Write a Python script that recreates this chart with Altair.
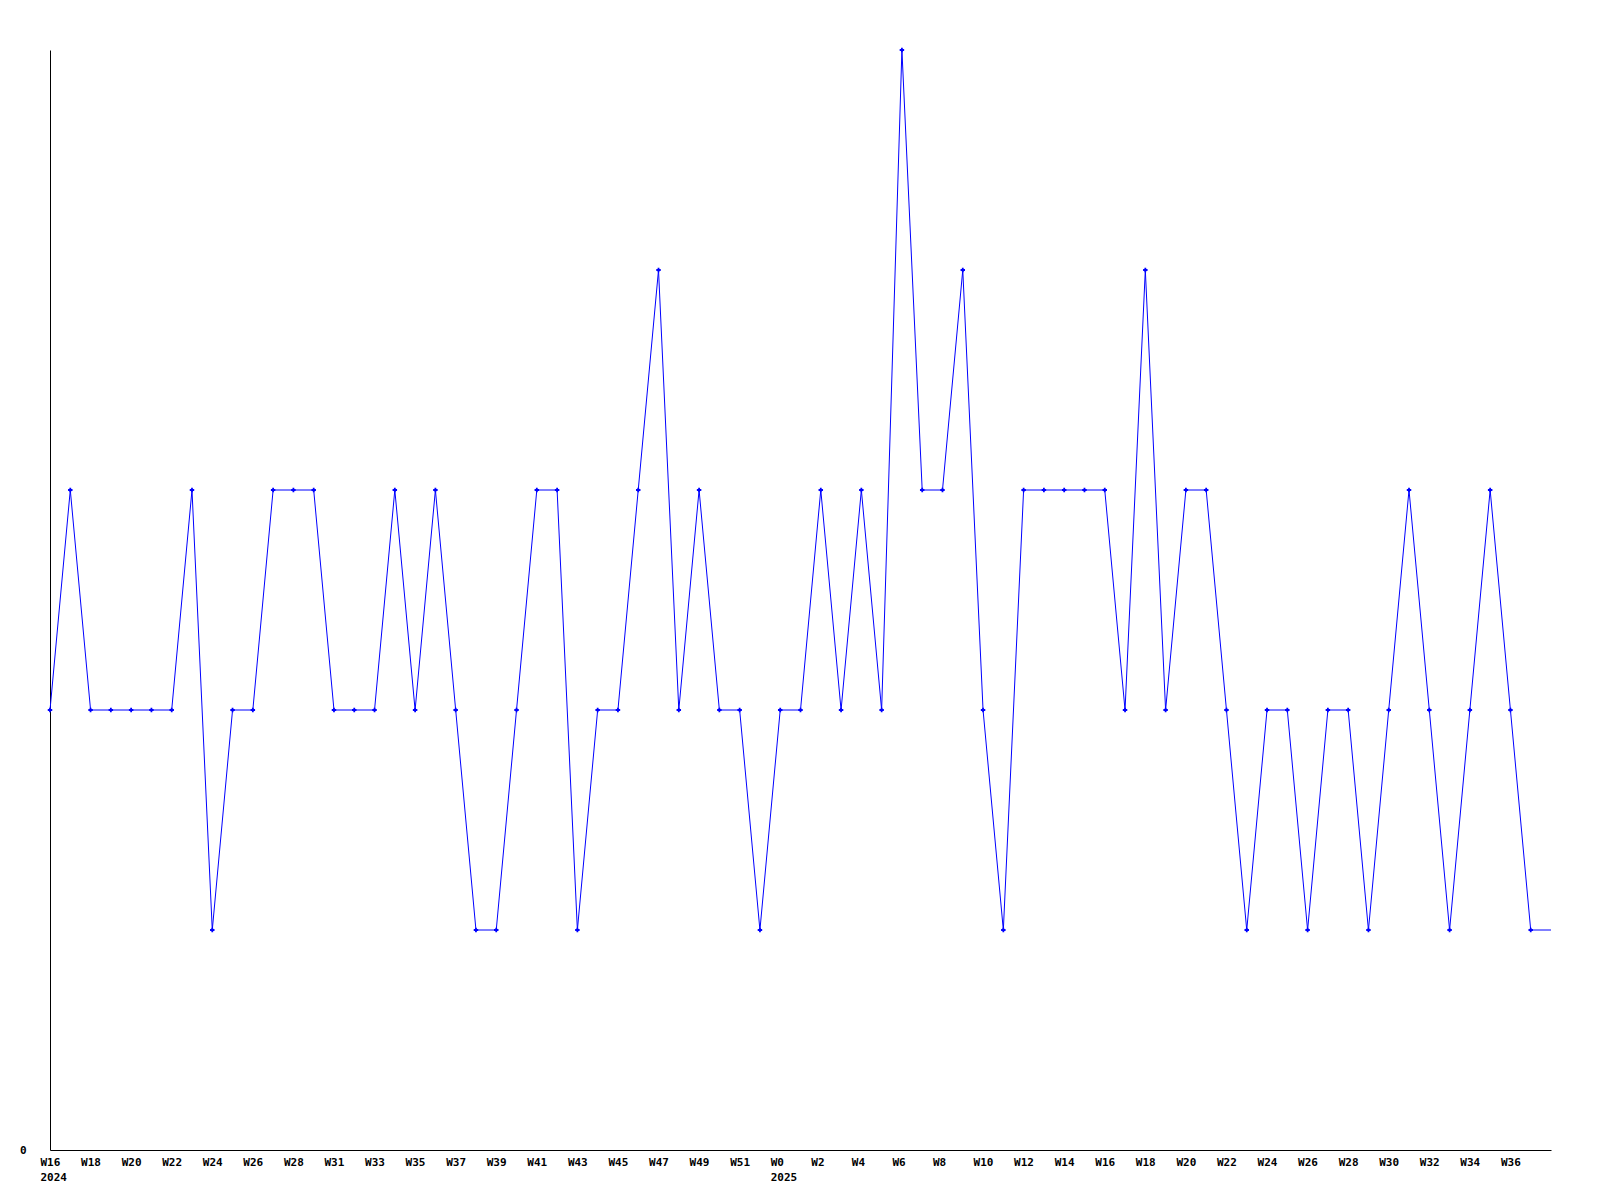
import altair as alt
import pandas as pd
import json

# weekly values (index 0 = 2024 W16)
values = [2, 3, 2, 2, 2, 2, 2, 3, 1, 2,
          2, 3, 3, 3, 2, 2, 2, 3, 2, 3,
          2, 1, 1, 2, 3, 3, 1, 2, 2, 3,
          4, 2, 3, 2, 2, 1, 2, 2, 3, 2,
          3, 2, 5, 3, 3, 4, 2, 1, 3, 3,
          3, 3, 3, 2, 4, 2, 3, 3, 2, 1,
          2, 2, 1, 2, 2, 1, 2, 3, 2, 1,
          2, 3, 2, 1]
# line continues flat to the right edge of the plot
tail_value = 1

week_labels = ["W16", "W18", "W20", "W22", "W24", "W26", "W28", "W31", "W33",
               "W35", "W37", "W39", "W41", "W43", "W45", "W47", "W49", "W51",
               "W0", "W2", "W4", "W6", "W8", "W10", "W12", "W14", "W16", "W18",
               "W20", "W22", "W24", "W26", "W28", "W30", "W32", "W34", "W36"]
year_labels = {0: "2024", 36: "2025"}

n = len(values)
line_df = pd.DataFrame({"idx": list(range(n + 1)), "v": values + [tail_value]})
pt_df = pd.DataFrame({"idx": list(range(n)), "v": values})

tick_vals = [2 * i for i in range(len(week_labels))]
label_map = {}
for i, lab in enumerate(week_labels):
    k = 2 * i
    label_map[str(k)] = [lab, year_labels[k]] if k in year_labels else lab
label_expr = json.dumps(label_map) + "[''+datum.value]"

FONT = "DejaVu Sans Mono"
BLUE = "#0000FF"

x = alt.X("idx:Q",
          scale=alt.Scale(domain=[0, n], nice=False, zero=False),
          axis=alt.Axis(values=tick_vals, labelExpr=label_expr, title=None,
                        grid=False, ticks=False, domainColor="black",
                        domainWidth=1, labelFont=FONT, labelFontWeight="bold",
                        labelFontSize=11, labelColor="black", labelAlign="left",
                        labelOffset=-10, labelBaseline="top", labelPadding=6,
                        labelLineHeight=15, labelFlush=False, labelOverlap=False))
y = alt.Y("v:Q",
          scale=alt.Scale(domain=[0, 5], nice=False),
          axis=alt.Axis(values=[0], format="d", title=None, grid=False, ticks=False,
                        domainColor="black", domainWidth=1, labelFont=FONT,
                        labelFontWeight="bold", labelFontSize=11,
                        labelColor="black", labelPadding=24,
                        labelBaseline="middle"))

line = alt.Chart(line_df).mark_line(color=BLUE, strokeWidth=1).encode(x=x, y=y)
pts = alt.Chart(pt_df).mark_point(shape="cross", filled=True, color=BLUE,
                                  size=20, opacity=1).encode(x="idx:Q", y="v:Q")

chart = (line + pts).properties(
    width=1501, height=1100,
    background="white",
    autosize=alt.AutoSizeParams(type="none"),
    padding={"left": 42, "top": 42, "right": 30, "bottom": 40},
).configure_view(strokeWidth=0, stroke=None)

chart.save("out.html", embed_options={"renderer": "svg", "actions": False})
